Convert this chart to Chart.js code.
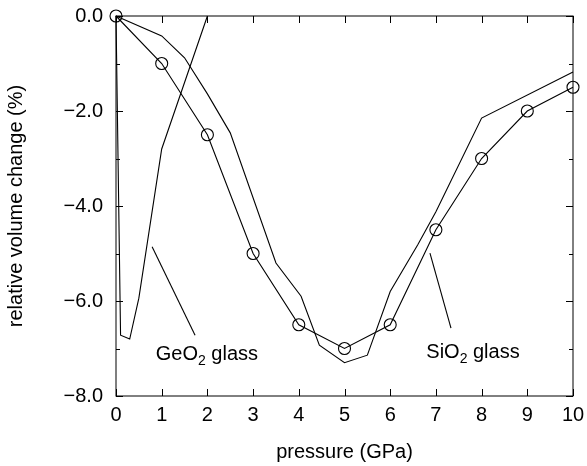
<!DOCTYPE html>
<html>
<head>
<meta charset="utf-8">
<script src="https://cdn.jsdelivr.net/npm/chart.js@4/dist/chart.umd.min.js"></script>
<style>
  html, body { margin: 0; padding: 0; background: #fff; }
  #wrap { width: 587px; height: 466px; }
</style>
</head>
<body>
<div id="wrap"><canvas id="chart" width="587" height="466"></canvas></div>
<script>
// ── data ──
const circlePressure = [0, 1, 2, 3, 4, 5, 6, 7, 8, 9, 10];
const circleVolume   = [0, -1, -2.5, -5, -6.5, -7, -6.5, -4.5, -3, -2, -1.5];

const sioPressure = [0, 1, 1.5, 2, 2.5, 3.5, 4.05, 4.45, 5, 5.5, 6, 6.6, 7, 8, 10];
const sioVolume   = [0, -0.42, -0.88, -1.64, -2.46, -5.2, -5.9, -6.93, -7.3, -7.14, -5.8, -4.82, -4.12, -2.15, -1.18];

const geoPressure = [0, 0.1, 0.3, 0.5, 1, 2];
const geoVolume   = [0, -6.72, -6.8, -5.94, -2.8, 0];

// label leader lines
const geoLeaderX = [0.79, 1.73];
const geoLeaderY = [-4.86, -6.72];
const sioLeaderX = [6.87, 7.33];
const sioLeaderY = [-4.99, -6.57];

// text labels: [main, subscript, rest, x, y]
const curveLabels = [
  ['GeO', '2', ' glass', 0.87, -7.24],
  ['SiO', '2', ' glass', 6.79, -7.2],
];

const xTicks = [0, 1, 2, 3, 4, 5, 6, 7, 8, 9, 10];
const yTicks = [0, -2, -4, -6, -8];

const FONT = "'Liberation Sans', Arial, Helvetica, sans-serif";
const SIZE = 20;
const pts = (xs, ys) => xs.map((x, i) => ({ x, y: ys[i] }));
const fmtMinus = (v) => (v < 0 ? '\u2212' : '') + Math.abs(v).toFixed(1);

// inward ticks, frame and curve labels
const framePlugin = {
  id: 'frame',
  afterDatasetsDraw(chart) {
    const { ctx, chartArea: a, scales: { x, y } } = chart;
    ctx.save();
    ctx.strokeStyle = '#000';
    ctx.lineWidth = 1;
    ctx.strokeRect(a.left, a.top, a.right - a.left, a.bottom - a.top);
    ctx.beginPath();
    xTicks.forEach((v) => {
      const px = Math.round(x.getPixelForValue(v)) + 0.5;
      ctx.moveTo(px, a.bottom); ctx.lineTo(px, a.bottom - 7);
      ctx.moveTo(px, a.top); ctx.lineTo(px, a.top + 7);
    });
    for (let v = -8; v <= 0; v++) {
      const py = Math.round(y.getPixelForValue(v)) + 0.5;
      const len = v % 2 === 0 ? 7 : 4;
      ctx.moveTo(a.left, py); ctx.lineTo(a.left + len, py);
      ctx.moveTo(a.right, py); ctx.lineTo(a.right - len, py);
    }
    ctx.stroke();

    ctx.fillStyle = '#000';
    ctx.textBaseline = 'alphabetic';
    ctx.textAlign = 'left';
    curveLabels.forEach(([main, sub, rest, lx, ly]) => {
      let px = x.getPixelForValue(lx);
      const py = y.getPixelForValue(ly);
      ctx.font = `${SIZE}px ${FONT}`;
      ctx.fillText(main, px, py);
      px += ctx.measureText(main).width;
      ctx.font = `14px ${FONT}`;
      ctx.fillText(sub, px, py + 5);
      px += ctx.measureText(sub).width;
      ctx.font = `${SIZE}px ${FONT}`;
      ctx.fillText(rest, px, py);
    });
    ctx.restore();
  },
};

const lineStyle = {
  borderColor: '#000',
  borderWidth: 1.1,
  pointRadius: 0,
  fill: false,
  tension: 0,
};

new Chart(document.getElementById('chart').getContext('2d'), {
  type: 'line',
  data: {
    datasets: [
      {
        ...lineStyle,
        data: pts(circlePressure, circleVolume),
        pointRadius: 6,
        pointStyle: 'circle',
        pointBorderColor: '#000',
        pointBackgroundColor: 'rgba(0,0,0,0)',
        pointBorderWidth: 1.1,
      },
      { ...lineStyle, data: pts(sioPressure, sioVolume) },
      { ...lineStyle, data: pts(geoPressure, geoVolume) },
      { ...lineStyle, data: pts(geoLeaderX, geoLeaderY) },
      { ...lineStyle, data: pts(sioLeaderX, sioLeaderY) },
    ],
  },
  plugins: [framePlugin],
  options: {
    responsive: false,
    animation: false,
    clip: false,
    layout: { padding: { top: 16, right: 14, left: 0, bottom: 0 } },
    plugins: { legend: { display: false }, tooltip: { enabled: false } },
    scales: {
      x: {
        type: 'linear',
        min: 0,
        max: 10,
        afterFit: (s) => { s.height = 70; s.paddingLeft = 0; s.paddingRight = 0; },
        afterBuildTicks: (s) => { s.ticks = xTicks.map((v) => ({ value: v })); },
        grid: { drawOnChartArea: false, drawTicks: false },
        border: { display: false },
        ticks: {
          color: '#000',
          padding: 7,
          font: { family: FONT, size: SIZE },
          callback: (v) => String(v),
        },
        title: {
          display: true,
          text: 'pressure (GPa)',
          color: '#000',
          font: { family: FONT, size: SIZE },
          padding: { top: 0, bottom: 2 },
        },
      },
      y: {
        type: 'linear',
        min: -8,
        max: 0,
        afterFit: (s) => { s.width = 116; s.paddingTop = 0; s.paddingBottom = 0; },
        afterBuildTicks: (s) => { s.ticks = yTicks.map((v) => ({ value: v })); },
        grid: { drawOnChartArea: false, drawTicks: false },
        border: { display: false },
        ticks: {
          color: '#000',
          padding: 13,
          font: { family: FONT, size: SIZE },
          callback: (v) => fmtMinus(v),
        },
        title: {
          display: true,
          text: 'relative volume change (%)',
          color: '#000',
          font: { family: FONT, size: SIZE },
          padding: { top: 4, bottom: 0 },
        },
      },
    },
  },
});
</script>
</body>
</html>
